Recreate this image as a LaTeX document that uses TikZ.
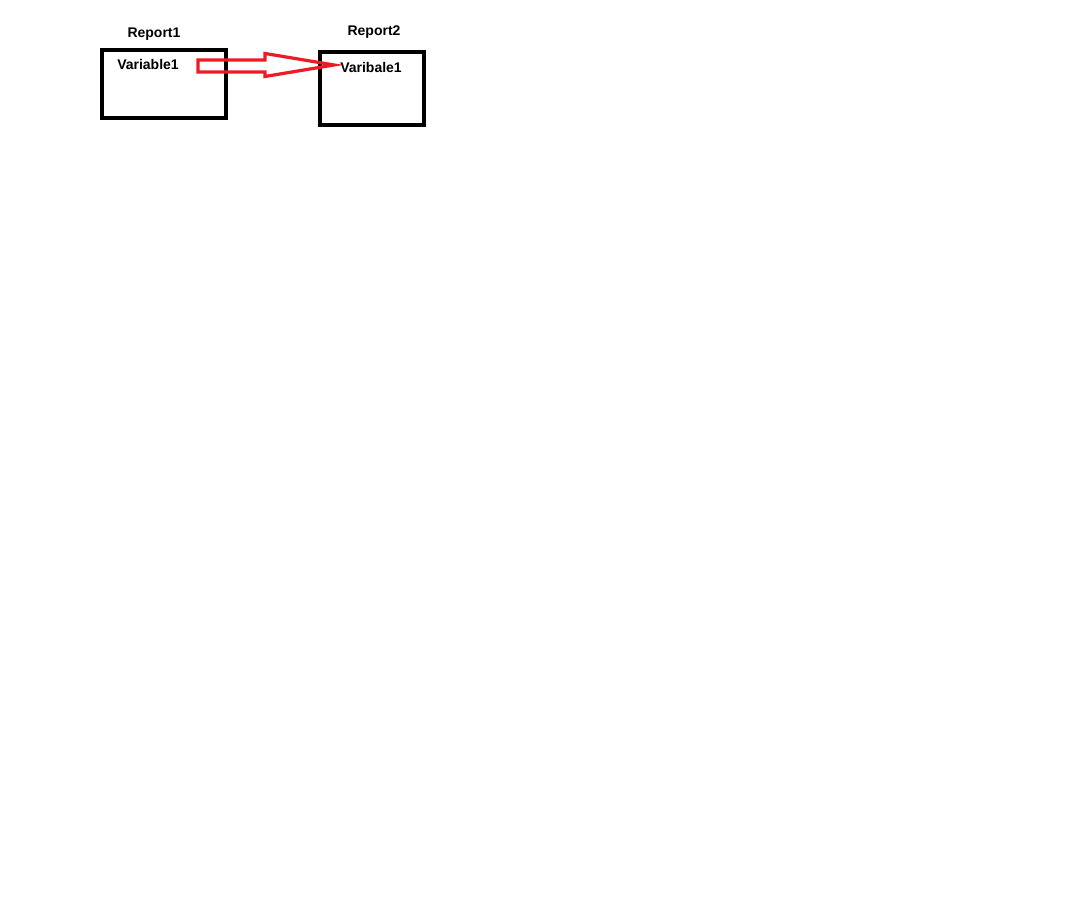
\documentclass[tikz,border=0pt]{standalone}
\usepackage{fontspec}
\setmainfont{Liberation Sans}
\usetikzlibrary{calc}
\definecolor{paintred}{RGB}{237,28,36}
\begin{document}
\begin{tikzpicture}[x=0.75pt,y=-0.75pt,
  box/.style={draw=black,line width=3pt},
  lbl/.style={font=\bfseries\fontsize{10.5}{12}\selectfont,inner sep=0pt,anchor=base},
  blockarrow/.style={draw=paintred,line width=2.4pt,line join=miter}]
\useasboundingbox (0,0) rectangle (1072,902);
\fill[white] (0,0) rectangle (1072,902);
\draw[box] (102,50) rectangle (226,118);
\draw[box] (320,52) rectangle (424,125);
\node[lbl] (r1) at (154,38) {Report1};
\node[lbl] (r2) at (374,36) {Report2};
\node[lbl] (v1) at (148,70) {Variable1};
\node[lbl] (v2) at (371,73) {Varibale1};
\coordinate (as) at (198,66);
\coordinate (ae) at (334,65);
\draw[blockarrow] ($(as)+(0,-6)$) -- (265,60) -- (265,53.5) -- (ae) -- (265,76.5) -- (265,72) -- ($(as)+(0,6)$) -- cycle;
\end{tikzpicture}
\end{document}
